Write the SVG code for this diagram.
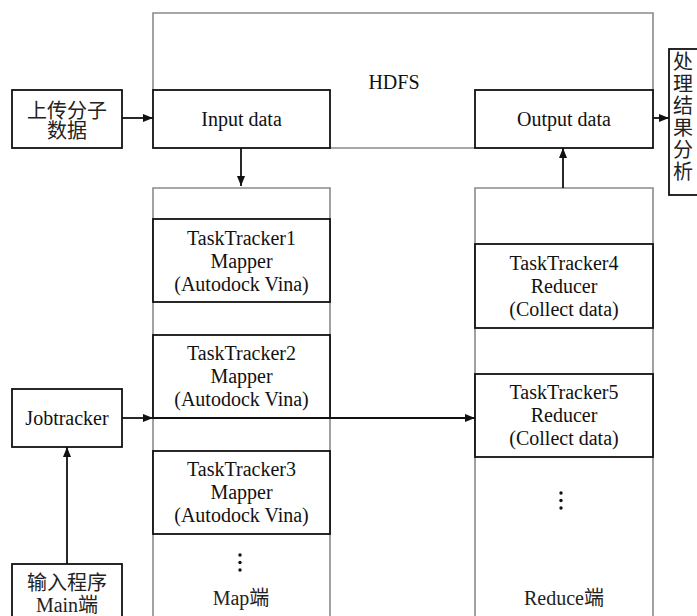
<svg xmlns="http://www.w3.org/2000/svg" width="697" height="616" viewBox="0 0 697 616">
  <style>
    .bg { fill: #ffffff; }
    .box { fill: #ffffff; stroke: #111111; stroke-width: 1.8; }
    .col { fill: none; stroke: #8a8a8a; stroke-width: 1.6; }
    .wire { fill: none; stroke: #111111; stroke-width: 1.8; }
    .t { font-family: "Liberation Serif", "Times New Roman", serif; font-size: 20px; fill: #111111; text-anchor: middle; }
    .cn { font-family: "Liberation Serif", "Noto Sans CJK SC", serif; font-size: 20px; fill: #222222; text-anchor: middle; }
    .dot { fill: #111111; }
  </style>
  <defs>
    <marker id="arrow" viewBox="0 0 10 8" refX="10" refY="4" markerWidth="10" markerHeight="8" markerUnits="userSpaceOnUse" orient="auto">
      <path d="M0,0 L10,4 L0,8 Z" fill="#111111"/>
    </marker>
  </defs>

  <rect class="bg" x="0" y="0" width="697" height="616"/>

  <!-- HDFS storage frame -->
  <g id="hdfs">
    <path class="col" d="M153,90 V13 H653 V90 M330,148 H475"/>
    <text class="t" x="394" y="89">HDFS</text>
  </g>

  <!-- Map and Reduce columns -->
  <g id="map-column">
    <path class="col" d="M153,616 V188 H330 V616"/>
    <circle class="dot" cx="240" cy="555" r="1.7"/>
    <circle class="dot" cx="240" cy="562.5" r="1.7"/>
    <circle class="dot" cx="240" cy="570" r="1.7"/>
    <text class="cn" x="241" y="605">Map端</text>
  </g>
  <g id="reduce-column">
    <path class="col" d="M475,616 V188 H653 V616"/>
    <circle class="dot" cx="561" cy="493" r="1.7"/>
    <circle class="dot" cx="561" cy="500.5" r="1.7"/>
    <circle class="dot" cx="561" cy="508" r="1.7"/>
    <text class="cn" x="564" y="605">Reduce端</text>
  </g>

  <!-- Nodes -->
  <g id="upload">
    <rect class="box" x="12" y="90" width="110" height="58"/>
    <text class="cn" x="67" y="118">上传分子</text>
    <text class="cn" x="67" y="138">数据</text>
  </g>
  <g id="input-data">
    <rect class="box" x="153" y="90" width="177" height="58"/>
    <text class="t" x="241.5" y="126">Input data</text>
  </g>
  <g id="output-data">
    <rect class="box" x="475" y="90" width="178" height="58"/>
    <text class="t" x="564" y="126">Output data</text>
  </g>
  <g id="analysis">
    <rect class="box" x="669" y="49" width="40" height="146"/>
    <text class="cn" x="683" y="69">处</text>
    <text class="cn" x="683" y="91">理</text>
    <text class="cn" x="683" y="113">结</text>
    <text class="cn" x="683" y="135">果</text>
    <text class="cn" x="683" y="157">分</text>
    <text class="cn" x="683" y="179">析</text>
  </g>
  <g id="tasktracker1">
    <rect class="box" x="153" y="219" width="177" height="83"/>
    <text class="t" x="241.5" y="244.5">TaskTracker1</text>
    <text class="t" x="241.5" y="267.5">Mapper</text>
    <text class="t" x="241.5" y="290.5">(Autodock Vina)</text>
  </g>
  <g id="tasktracker2">
    <rect class="box" x="153" y="335" width="177" height="83"/>
    <text class="t" x="241.5" y="360">TaskTracker2</text>
    <text class="t" x="241.5" y="383">Mapper</text>
    <text class="t" x="241.5" y="406">(Autodock Vina)</text>
  </g>
  <g id="tasktracker3">
    <rect class="box" x="153" y="451" width="177" height="83"/>
    <text class="t" x="241.5" y="476">TaskTracker3</text>
    <text class="t" x="241.5" y="499">Mapper</text>
    <text class="t" x="241.5" y="522">(Autodock Vina)</text>
  </g>
  <g id="tasktracker4">
    <rect class="box" x="475" y="244" width="178" height="84"/>
    <text class="t" x="564" y="269.5">TaskTracker4</text>
    <text class="t" x="564" y="292.5">Reducer</text>
    <text class="t" x="564" y="315.5">(Collect data)</text>
  </g>
  <g id="tasktracker5">
    <rect class="box" x="475" y="374" width="178" height="83"/>
    <text class="t" x="564" y="399">TaskTracker5</text>
    <text class="t" x="564" y="422">Reducer</text>
    <text class="t" x="564" y="445">(Collect data)</text>
  </g>
  <g id="jobtracker">
    <rect class="box" x="12" y="389" width="110" height="58"/>
    <text class="t" x="67" y="425">Jobtracker</text>
  </g>
  <g id="main">
    <rect class="box" x="12" y="564" width="110" height="60"/>
    <text class="cn" x="67" y="590">输入程序</text>
    <text class="cn" x="67" y="612">Main端</text>
  </g>

  <!-- Connectors -->
  <g id="connectors">
    <path class="wire" d="M122,118 H153" marker-end="url(#arrow)"/>
    <path class="wire" d="M241,148 V186" marker-end="url(#arrow)"/>
    <path class="wire" d="M563,188 V148" marker-end="url(#arrow)"/>
    <path class="wire" d="M653,118 H669" marker-end="url(#arrow)"/>
    <path class="wire" d="M122,418 H153" marker-end="url(#arrow)"/>
    <path class="wire" d="M153,418 H475" marker-end="url(#arrow)"/>
    <path class="wire" d="M67,564 V447" marker-end="url(#arrow)"/>
  </g>
</svg>
